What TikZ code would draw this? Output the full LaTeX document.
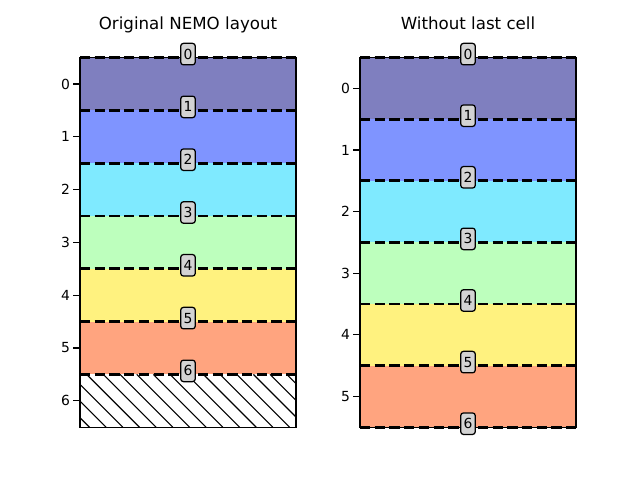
\documentclass[tikz,border=0pt]{standalone}
\usepackage{fontspec}
\setmainfont{DejaVu Sans}
\definecolor{c0}{RGB}{127,127,191}
\definecolor{c1}{RGB}{127,148,255}
\definecolor{c2}{RGB}{127,234,255}
\definecolor{c3}{RGB}{189,255,189}
\definecolor{c4}{RGB}{255,242,127}
\definecolor{c5}{RGB}{255,164,127}
\definecolor{boxgray}{RGB}{211,211,211}
\begin{document}
\begin{tikzpicture}[x=0.72pt,y=-0.72pt,
  lbl/.style={draw=black, fill=boxgray, rounded corners=2pt, inner sep=0pt,
    minimum width=10.5pt, minimum height=15.5pt, line width=0.9pt,
    font=\fontsize{10}{12}\selectfont},
  dline/.style={line width=2pt, dash pattern=on 7.4pt off 3.2pt},
  tickmark/.style={line width=0.8pt},
  ticklbl/.style={anchor=east, inner sep=0pt, font=\fontsize{10}{12}\selectfont},
  ttl/.style={anchor=base, inner sep=0pt, font=\fontsize{12}{14}\selectfont},
  frame/.style={line width=0.8pt},
  hatchline/.style={line width=0.8pt}]
\useasboundingbox (0,0) rectangle (640,480);
\fill[white] (0,0) rectangle (640,480);
% cells
\foreach \i/\c in {0/c0,1/c1,2/c2,3/c3,4/c4,5/c5} {
  \fill[\c] (80,{57.6+\i*52.8}) rectangle (296,{57.6+(\i+1)*52.8});
  \fill[\c] (360,{57.6+\i*61.6}) rectangle (576,{57.6+(\i+1)*61.6});
}
% hatched last cell
\begin{scope}
  \clip (80,374.4) rectangle (296,427.2);
  \foreach \k in {0,...,17} \draw[hatchline] ({20+\k*16.67},374.4) -- ++(52.8,52.8);
\end{scope}
% frames
\draw[frame] (80,57.6) rectangle (296,427.2);
\draw[frame] (360,57.6) rectangle (576,427.2);
% ticks
\foreach \k in {0,...,6} {
  \coordinate (lta\k) at (73.1,{57.6+(\k+0.5)*52.8});
  \coordinate (ltb\k) at (80,{57.6+(\k+0.5)*52.8});
  \draw[tickmark] (lta\k) -- (ltb\k);
  \node[ticklbl] (ltl\k) at (70.3,{57.6+(\k+0.5)*52.8}) {\k};
}
\foreach \k in {0,...,5} {
  \coordinate (rta\k) at (353.1,{57.6+(\k+0.5)*61.6});
  \coordinate (rtb\k) at (360,{57.6+(\k+0.5)*61.6});
  \draw[tickmark] (rta\k) -- (rtb\k);
  \node[ticklbl] (rtl\k) at (350.3,{57.6+(\k+0.5)*61.6}) {\k};
}
% dashed boundaries and labels
\foreach \k in {0,...,6} {
  \coordinate (la\k) at (80,{57.6+\k*52.8});
  \coordinate (lb\k) at (296,{57.6+\k*52.8});
  \draw[dline] (la\k) -- (lb\k);
  \node[lbl] (L\k) at (188,{57.6+\k*52.8-3.5}) {\k};
  \coordinate (ra\k) at (360,{57.6+\k*61.6});
  \coordinate (rb\k) at (576,{57.6+\k*61.6});
  \draw[dline] (ra\k) -- (rb\k);
  \node[lbl] (R\k) at (468,{57.6+\k*61.6-3.5}) {\k};
}
% titles
\node[ttl] (t1) at (188,29) {Original NEMO layout};
\node[ttl] (t2) at (468,29) {Without last cell};
\end{tikzpicture}
\end{document}
